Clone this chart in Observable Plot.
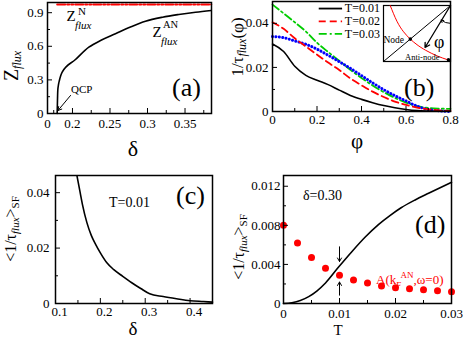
<!DOCTYPE html>
<html><head><meta charset="utf-8">
<script src="https://cdn.jsdelivr.net/npm/d3@7"></script>
<script src="https://cdn.jsdelivr.net/npm/@observablehq/plot@0.6"></script>
<style>
body{margin:0;background:#fff;}
#root{position:relative;width:463px;height:340px;overflow:hidden;background:#fff;}
#root svg{position:absolute;left:0;top:0;}
</style></head><body><div id="root"></div>
<script>
// ---------- Panel (a) data ----------
const deltaA = [0.1796,0.1800,0.1804,0.1814,0.1827,0.1844,0.1863,0.2040,0.2218,0.2387,0.2573,0.2773,0.2973,0.3200,0.3417,0.3640,0.3850];
const zFluxAN = [0,0.116,0.205,0.259,0.299,0.339,0.369,0.482,0.592,0.656,0.712,0.772,0.824,0.860,0.884,0.904,0.920];
const deltaN = [0.1796,0.3850];
const zFluxN = [0.973,0.973];
const xTicksA = [0.1667,0.2,0.25,0.3,0.35];
const xTickLabelsA = ["0","0.2","0.25","0.3","0.35"];
const xMinorA = [0.175,0.225,0.275,0.325,0.375];
const yTicksA = [0,0.3,0.6,0.9];
const yMinorA = [0.15,0.45,0.75];

// ---------- Panel (b) data ----------
const phi = [0,0.05,0.1,0.15,0.2,0.25,0.3,0.35,0.4,0.45,0.5,0.55,0.6,0.65,0.7,0.75,0.8];
const rateT001 = [0.0306,0.0272,0.0205,0.0164,0.0142,0.0122,0.0097,0.0073,0.0055,0.0040,0.0027,0.0017,0.0009,0.0004,0.0002,0.0001,0.0001];
const rateT002 = [0.0405,0.0375,0.0332,0.0295,0.0258,0.0222,0.0188,0.0150,0.0119,0.0090,0.0066,0.0045,0.0030,0.0018,0.0010,0.0005,0.0003];
const rateT003 = [0.0485,0.0445,0.0405,0.0363,0.0312,0.0270,0.0230,0.0189,0.0152,0.0118,0.0088,0.0062,0.0040,0.0024,0.0016,0.0013,0.0012];
const rateBlue = [0.0340,0.0335,0.0320,0.0305,0.0283,0.0255,0.0226,0.0196,0.0163,0.0130,0.0099,0.0072,0.0048,0.0024,0.0009,0.0003,0.0000];
const legendLabels = ["T=0.01","T=0.02","T=0.03"];
const xTicksB = [0,0.2,0.4,0.6,0.8];
const xMinorB = [0.1,0.3,0.5,0.7];
const yTicksB = [0,0.02,0.04];
const yMinorB = [0.01,0.03];
// inset schematic (Fermi surface)
const fsX = [0.10,0.20,0.30,0.40,0.50,0.63,0.80,0.96];
const fsY = [1.00,0.72,0.53,0.40,0.30,0.20,0.10,0.03];

// ---------- Panel (c) data ----------
const deltaC = [0.148,0.155,0.16,0.17,0.18,0.19,0.2,0.215,0.23,0.25,0.27,0.29,0.31,0.34,0.37,0.40,0.43,0.45];
const rateC = [0.046,0.040,0.0358,0.0292,0.0245,0.0212,0.0183,0.0146,0.0122,0.0098,0.0075,0.0054,0.0035,0.0025,0.0017,0.0010,0.0007,0.0005];
const xTicksC = [0.1,0.2,0.3,0.4];
const xMinorC = [0.15,0.25,0.35];
const yTicksC = [0,0.02,0.04];
const yMinorC = [0.01,0.03];

// ---------- Panel (d) data ----------
const tempD = [0,0.0015,0.003,0.0045,0.006,0.0075,0.0098,0.0122,0.0146,0.017,0.019,0.021,0.0235,0.026,0.03];
const rateD = [0,0.00008,0.0003,0.0007,0.0013,0.0021,0.0037,0.0053,0.0068,0.0081,0.0090,0.0098,0.0106,0.0113,0.0124];
const tempA = [0,0.0025,0.005,0.0075,0.01,0.0125,0.015,0.0175,0.02,0.0225,0.025,0.0275,0.03];
const spectralA = [0.0080,0.0062,0.0047,0.0036,0.0029,0.0024,0.0021,0.0018,0.0016,0.0015,0.0014,0.0013,0.0012];
const xTicksD = [0,0.01,0.02,0.03];
const xMinorD = [0.005,0.015,0.025];
const yTicksD = [0,0.004,0.008,0.012];
const yMinorD = [0.002,0.006,0.010];

// ---------- layout helpers ----------
const root = document.getElementById("root");
const W = 463, H = 340, FONT = "Liberation Serif";
const fmt = d => d === 0 ? "0" : String(+d.toFixed(4));

function mount(frame, xs, ys, marks) {
  const [x0, x1, y0, y1] = frame;
  const svg = Plot.plot({
    width: W, height: H,
    marginLeft: x0, marginRight: W - x1, marginTop: y0, marginBottom: H - y1,
    x: xs, y: ys,
    style: {background: "transparent", fontFamily: FONT, fontSize: "13px", color: "black", overflow: "visible"},
    marks
  });
  root.appendChild(svg);
  return d3.select(svg);
}
function axes(frame, xMaj, xMin, yMaj, yMin, xFmt, yFmt, xPad, yPad, xdx = 0) {
  const iw = frame[1] - frame[0], ih = frame[3] - frame[2];
  return [
    Plot.tickX(xMaj, {x: d => d, insetTop: ih - 5, stroke: "black", strokeWidth: 1}),
    Plot.tickX(xMin, {x: d => d, insetTop: ih - 3, stroke: "black", strokeWidth: 1}),
    Plot.tickY(yMaj, {y: d => d, insetRight: iw - 5, stroke: "black", strokeWidth: 1}),
    Plot.tickY(yMin, {y: d => d, insetRight: iw - 3, stroke: "black", strokeWidth: 1}),
    Plot.axisX(xMaj, {tickSize: 0, tickPadding: xPad, tickFormat: xFmt, fontSize: 13, label: null, dx: xdx}),
    Plot.axisY(yMaj, {tickSize: 0, tickPadding: yPad, tickFormat: yFmt, fontSize: 13, label: null}),
    Plot.frame({stroke: "black", strokeWidth: 1.5})
  ];
}
function txt(sel, x, y, parts, o = {}) {
  const t = sel.append("text").attr("x", x).attr("y", y)
    .attr("text-anchor", o.anchor || "start").attr("font-family", FONT)
    .attr("fill", o.fill || "black").attr("stroke", "none");
  if (o.rotate) t.attr("transform", `rotate(${o.rotate},${x},${y})`);
  let cur = 0;
  for (const p of parts) {
    const ts = t.append("tspan").text(p.t).attr("font-size", p.size);
    if (p.italic) ts.attr("font-style", "italic");
    const dy = (p.dy || 0) - cur;
    if (dy) ts.attr("dy", dy);
    cur = p.dy || 0;
  }
  return t;
}

// ---------- Panel (a) ----------
const fA = [47, 211, 2, 113];
const mapA = new Map(xTicksA.map((v, i) => [v, xTickLabelsA[i]]));
const sA = mount(fA, {domain: [0.1667, 0.3853]}, {domain: [0, 0.991]}, [
  Plot.line(deltaN.map((d, i) => [d, zFluxN[i]]), {stroke: "red", strokeWidth: 2, strokeDasharray: "8,2,2,2,2,2"}),
  Plot.line(deltaA.map((d, i) => [d, zFluxAN[i]]), {stroke: "black", strokeWidth: 1.6, curve: "monotone-x"}),
  Plot.arrow([{x1: 0.1974, y1: 0.161, x2: 0.1807, y2: 0.027}], {x1: "x1", y1: "y1", x2: "x2", y2: "y2", stroke: "black", strokeWidth: 1, headLength: 6}),
  ...axes(fA, xTicksA, xMinorA, yTicksA, yMinorA, d => mapA.get(d), fmt, 5, 4)
]);
txt(sA, 18, 66, [{t: "Z", size: 20}, {t: "flux", size: 12, italic: true, dy: 3}], {rotate: -90, anchor: "middle"});
txt(sA, 66.5, 21, [{t: "Z", size: 15}]);
txt(sA, 78, 15, [{t: "N", size: 11}]);
txt(sA, 75, 28.5, [{t: "flux", size: 11, italic: true}]);
txt(sA, 152.5, 37, [{t: "Z", size: 15}]);
txt(sA, 163, 27.5, [{t: "AN", size: 10.5}]);
txt(sA, 161, 45, [{t: "flux", size: 11, italic: true}]);
txt(sA, 71, 93, [{t: "QCP", size: 11}]);
txt(sA, 172, 96, [{t: "(a)", size: 26}]);
txt(sA, 133, 156, [{t: "δ", size: 22}], {anchor: "middle"});

// ---------- Panel (b) ----------
const fB = [272, 450, 1, 111];
const legY = [0.0467, 0.0409, 0.0352];
const legStyles = [
  {stroke: "black", strokeDasharray: null},
  {stroke: "red", strokeDasharray: "7,4"},
  {stroke: "#00cc00", strokeDasharray: "8,3,2,3"}
];
const sB = mount(fB, {domain: [0, 0.8]}, {domain: [0, 0.0499]}, [
  Plot.line(phi.map((p, i) => [p, rateT003[i]]), {stroke: "#00cc00", strokeWidth: 1.8, strokeDasharray: "8,3,2,3", curve: "monotone-x"}),
  Plot.line(phi.map((p, i) => [p, rateBlue[i]]), {stroke: "blue", strokeWidth: 3, strokeDasharray: "0.1,3.3", strokeLinecap: "round", curve: "monotone-x"}),
  Plot.line(phi.map((p, i) => [p, rateT002[i]]), {stroke: "red", strokeWidth: 1.8, strokeDasharray: "7,4", curve: "monotone-x"}),
  Plot.line(phi.map((p, i) => [p, rateT001[i]]), {stroke: "black", strokeWidth: 1.6, curve: "monotone-x"}),
  ...legendLabels.map((l, i) => Plot.ruleY([legY[i]], {x1: 0.21, x2: 0.315, stroke: legStyles[i].stroke, strokeWidth: 1.8, strokeDasharray: legStyles[i].strokeDasharray})),
  Plot.text(legendLabels, {x: 0.325, y: (d, i) => legY[i], text: d => d, textAnchor: "start", fontSize: 12, fill: "black"}),
  ...axes(fB, xTicksB, xMinorB, yTicksB, yMinorB, fmt, fmt, 3, 4)
]);
txt(sB, 243, 47, [{t: "1/τ", size: 17}, {t: "flux", size: 12, italic: true, dy: 3}, {t: "(φ)", size: 17, dy: 0}], {rotate: -90, anchor: "middle"});
txt(sB, 404, 96, [{t: "(b)", size: 26}]);
txt(sB, 357, 148, [{t: "φ", size: 21}], {anchor: "middle"});

// inset
const fI = [383, 450, 5, 61];
const sI = mount(fI, {domain: [0, 1], axis: null}, {domain: [0, 1], axis: null}, [
  Plot.frame({fill: "white", stroke: "black", strokeWidth: 1.2}),
  Plot.line(fsX.map((x, i) => [x, fsY[i]]), {stroke: "red", strokeWidth: 1, curve: "natural"}),
  Plot.line([[0, 0], [1, 1]], {stroke: "black", strokeWidth: 1}),
  Plot.arrow([{x1: 1, y1: 1, x2: 0.62, y2: 0.25}], {x1: "x1", y1: "y1", x2: "x2", y2: "y2", stroke: "black", strokeWidth: 1.3, headLength: 6}),
  Plot.arrow([{x1: 1, y1: 0.68, x2: 0.86, y2: 0.74}], {x1: "x1", y1: "y1", x2: "x2", y2: "y2", stroke: "black", strokeWidth: 1, headLength: 4, bend: 20}),
  Plot.dot([[0.4, 0.4], [0.97, 0.03]], {r: 1.8, fill: "black"})
]);
txt(sI, 404, 43, [{t: "Node", size: 9.5}], {anchor: "end"});
txt(sI, 405, 59.5, [{t: "Anti-node", size: 8.5}]);
txt(sI, 434, 48, [{t: "φ", size: 18}]);

// ---------- Panel (c) ----------
const fC = [55, 212, 175, 303];
const sC = mount(fC, {domain: [0.1, 0.45]}, {domain: [0, 0.0462]}, [
  Plot.line(deltaC.map((d, i) => [d, rateC[i]]), {stroke: "black", strokeWidth: 1.6, curve: "monotone-x"}),
  ...axes(fC, xTicksC, xMinorC, yTicksC, yMinorC, fmt, fmt, 3, 6, 4)
]);
txt(sC, 16, 229, [{t: "<1/τ", size: 16}, {t: "flux", size: 11, italic: true, dy: 3}, {t: ">", size: 16, dy: 0}, {t: "SF", size: 11, dy: 3}], {rotate: -90, anchor: "middle"});
txt(sC, 109, 207, [{t: "T=0.01", size: 14}]);
txt(sC, 176, 204, [{t: "(c)", size: 26}]);
txt(sC, 133, 335, [{t: "δ", size: 19}], {anchor: "middle"});

// ---------- Panel (d) ----------
const fD = [283, 451, 175, 303];
const sD = mount(fD, {domain: [0, 0.03]}, {domain: [0, 0.0131]}, [
  Plot.line(tempD.map((t, i) => [t, rateD[i]]), {stroke: "black", strokeWidth: 1.6, curve: "monotone-x"}),
  Plot.dot(tempA.map((t, i) => [t, spectralA[i]]), {r: 3.5, fill: "red", stroke: "none"}),
  Plot.arrow([{x1: 0.01, y1: 0.0058, x2: 0.01, y2: 0.0043}, {x1: 0.01, y1: 0.00085, x2: 0.01, y2: 0.0022}],
    {x1: "x1", y1: "y1", x2: "x2", y2: "y2", stroke: "black", strokeWidth: 1, headLength: 6}),
  ...axes(fD, xTicksD, xMinorD, yTicksD, yMinorD, fmt, fmt, 5, 3)
]);
txt(sD, 244, 247, [{t: "<1/τ", size: 16}, {t: "flux", size: 11, italic: true, dy: 3}, {t: ">", size: 16, dy: 0}, {t: "SF", size: 11, dy: 3}], {rotate: -90, anchor: "middle"});
txt(sD, 303, 200, [{t: "δ=0.30", size: 14}]);
txt(sD, 415, 233, [{t: "(d)", size: 26}]);
txt(sD, 376, 284, [{t: "A(k", size: 13}, {t: "F", size: 9, dy: 4}, {t: "AN", size: 9, dy: -6}, {t: ",ω=0)", size: 13, dy: 0}], {fill: "red"});
txt(sD, 338, 335, [{t: "T", size: 15}], {anchor: "middle"});
</script></body></html>
